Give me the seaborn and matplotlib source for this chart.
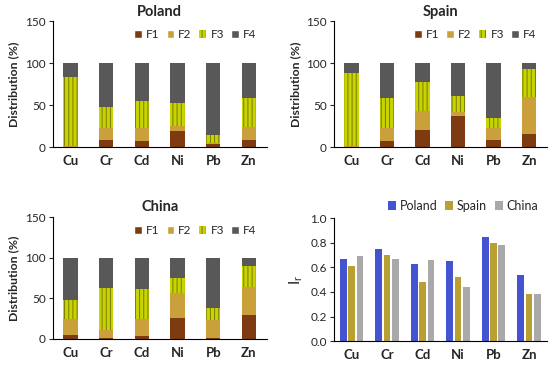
import numpy as np
import pandas as pd
import matplotlib
matplotlib.use("Agg")
import matplotlib.pyplot as plt
from matplotlib.patches import Patch
import seaborn as sns

metals = ["Cu", "Cr", "Cd", "Ni", "Pb", "Zn"]
fractions = ["F1", "F2", "F3", "F4"]

# fraction distribution (%) per metal
poland_f1 = [0.5, 9, 7, 19, 4, 9]
poland_f2 = [0.5, 14, 16, 6, 1, 15]
poland_f3 = [82, 25, 32, 28, 9, 34]
poland_f4 = [17, 52, 45, 47, 86, 42]

spain_f1 = [0.5, 7, 20, 37, 8, 16]
spain_f2 = [0.5, 16, 23, 5, 15, 44]
spain_f3 = [87, 36, 35, 19, 12, 33]
spain_f4 = [12, 41, 22, 39, 65, 7]

china_f1 = [5, 1, 3, 26, 1, 30]
china_f2 = [19, 10, 21, 31, 22, 34]
china_f3 = [24, 52, 38, 18, 15, 26]
china_f4 = [52, 37, 38, 25, 62, 10]

# reduced partition index
countries = ["Poland", "Spain", "China"]
ir_poland = [0.67, 0.75, 0.63, 0.65, 0.85, 0.54]
ir_spain = [0.61, 0.70, 0.48, 0.52, 0.80, 0.38]
ir_china = [0.69, 0.67, 0.66, 0.44, 0.78, 0.38]

frac_colors = ["#7E3A10", "#C9A03A", "#C8D400", "#585858"]
hatch_color = "#7A7A00"
country_colors = ["#4453D0", "#B9A032", "#A9A9A9"]

sns.set_style("white")
plt.rcParams["font.family"] = ["Lato", "DejaVu Sans"]
plt.rcParams["hatch.linewidth"] = 0.7

fig = plt.figure(figsize=(5.5, 3.66), dpi=100)


def style_axis(ax, ymax, yticks, ylabel):
    sns.despine(ax=ax)
    ax.set_xlim(-0.5, 5.5)
    ax.set_ylim(0, ymax)
    ax.set_yticks(yticks)
    ax.set_xticks(range(6))
    ax.set_xticklabels(metals, fontsize=9.5, fontweight="bold")
    ax.set_xticks(np.arange(-0.5, 6, 1), minor=True)
    ax.tick_params(axis="x", which="major", length=0, pad=6)
    ax.tick_params(axis="x", which="minor", length=3, width=0.8, direction="out")
    ax.tick_params(axis="y", length=3, width=0.8, direction="out", labelsize=8.5, pad=2)
    ax.tick_params(bottom=True, left=True)
    for s in ["left", "bottom"]:
        ax.spines[s].set_linewidth(0.8)
        ax.spines[s].set_color("black")
    ax.set_xlabel("")
    ax.set_ylabel(ylabel, fontsize=8.8, fontweight="bold", labelpad=4)


def stacked(ax, f1, f2, f3, f4, title):
    parts = np.array([f1, f2, f3, f4], dtype=float)
    cum = np.cumsum(parts, axis=0)
    # draw from the top of the stack down so lower segments cover upper ones
    for i in range(3, -1, -1):
        n0 = len(ax.patches)
        sns.barplot(x=metals, y=cum[i], color=frac_colors[i], width=0.4,
                    saturation=1, linewidth=0, ax=ax)
        if i == 2:
            for p in ax.patches[n0:]:
                p.set_hatch("||||")
                p.set_edgecolor(hatch_color)
                p.set_linewidth(0)
    style_axis(ax, 150, [0, 50, 100, 150], "Distribution (%)")
    ax.set_title(title, fontsize=10.5, fontweight="bold", pad=4)
    handles = [Patch(facecolor=frac_colors[k], label=fractions[k]) for k in range(4)]
    handles[2].set_hatch("||||")
    handles[2].set_edgecolor(hatch_color)
    handles[2].set_linewidth(0)
    ax.legend(handles=handles, ncol=4, loc="upper right", bbox_to_anchor=(0.99, 1.0),
              frameon=False, fontsize=8.5, handlelength=0.65, handleheight=0.65,
              handletextpad=0.35, columnspacing=0.6, borderaxespad=0.3)


ax1 = fig.add_axes([0.096, 0.598, 0.389, 0.344])
stacked(ax1, poland_f1, poland_f2, poland_f3, poland_f4, "Poland")

ax2 = fig.add_axes([0.607, 0.598, 0.387, 0.344])
stacked(ax2, spain_f1, spain_f2, spain_f3, spain_f4, "Spain")

ax3 = fig.add_axes([0.096, 0.074, 0.389, 0.333])
stacked(ax3, china_f1, china_f2, china_f3, china_f4, "China")

ax4 = fig.add_axes([0.607, 0.068, 0.387, 0.336])
ir = pd.DataFrame({
    "metal": metals * 3,
    "country": [c for c in countries for _ in metals],
    "ir": ir_poland + ir_spain + ir_china,
})
sns.barplot(data=ir, x="metal", y="ir", hue="country", hue_order=countries,
            palette=country_colors, width=0.7, saturation=1, linewidth=0,
            gap=0.2, ax=ax4)
style_axis(ax4, 1.0, [0.0, 0.2, 0.4, 0.6, 0.8, 1.0], r"$\mathregular{I_r}$")
ax4.yaxis.label.set_fontweight("normal")
ax4.yaxis.label.set_fontsize(11)
ax4.set_yticklabels([f"{v:.1f}" for v in [0.0, 0.2, 0.4, 0.6, 0.8, 1.0]])
ax4.legend(ncol=3, loc="lower right", bbox_to_anchor=(0.99, 1.0), frameon=False,
           fontsize=9, handlelength=0.65, handleheight=0.65, handletextpad=0.3,
           columnspacing=0.6, borderaxespad=0.1)

fig.savefig("out.png", dpi=100)
